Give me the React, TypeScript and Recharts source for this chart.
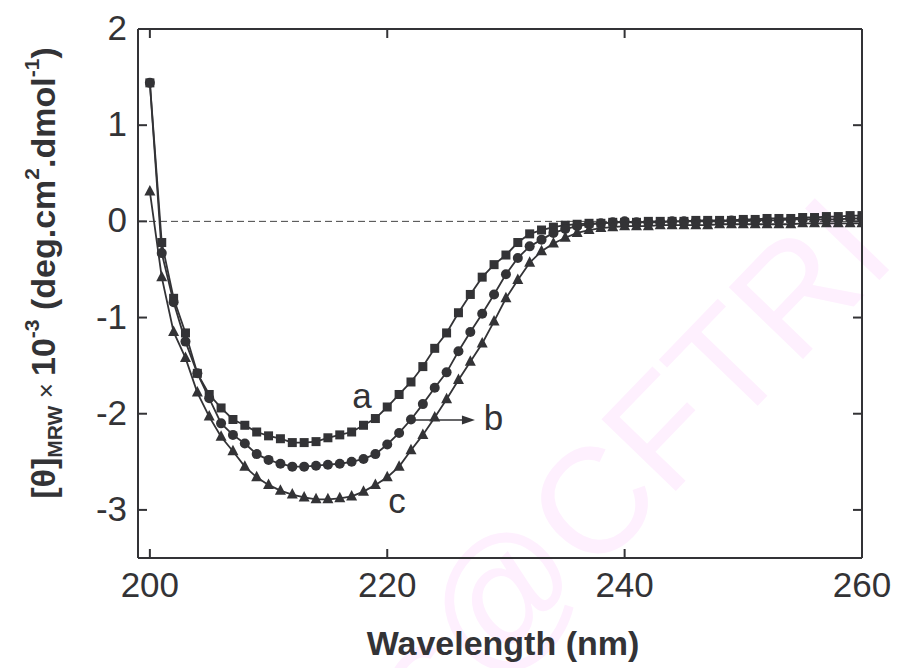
import React from 'react';
import { LineChart, Line, XAxis, YAxis, ReferenceLine, ReferenceDot } from 'recharts';

// wavelength (nm), one reading per nm
const wavelengths = [
  200, 201, 202, 203, 204, 205, 206, 207, 208, 209, 210, 211, 212, 213, 214, 215, 216, 217, 218, 219,
  220, 221, 222, 223, 224, 225, 226, 227, 228, 229, 230, 231, 232, 233, 234, 235, 236, 237, 238, 239,
  240, 241, 242, 243, 244, 245, 246, 247, 248, 249, 250, 251, 252, 253, 254, 255, 256, 257, 258, 259, 260,
];

// curve a (squares)
const seriesA = [
  1.44, -0.22, -0.8, -1.16, -1.58, -1.8, -1.94, -2.06, -2.12, -2.19, -2.23, -2.26, -2.3, -2.3, -2.29, -2.25, -2.22, -2.19, -2.12, -2.05,
  -1.93, -1.8, -1.67, -1.51, -1.32, -1.16, -0.95, -0.76, -0.58, -0.45, -0.35, -0.22, -0.13, -0.09, -0.06, -0.04, -0.03, -0.02, -0.02, -0.01,
  -0.01, -0.01, 0.0, 0.0, 0.0, 0.0, 0.01, 0.01, 0.01, 0.01, 0.02, 0.02, 0.03, 0.03, 0.03, 0.04, 0.04, 0.05, 0.05, 0.06, 0.06,
];

// curve b (circles)
const seriesB = [
  1.44, -0.33, -0.84, -1.25, -1.58, -1.84, -2.1, -2.22, -2.31, -2.42, -2.48, -2.52, -2.55, -2.55, -2.54, -2.53, -2.52, -2.5, -2.47, -2.42,
  -2.32, -2.2, -2.06, -1.9, -1.73, -1.57, -1.35, -1.15, -0.96, -0.76, -0.55, -0.38, -0.26, -0.19, -0.12, -0.08, -0.05, -0.03, -0.02, -0.01,
  0.0, -0.01, -0.01, -0.01, 0.0, 0.0, 0.0, 0.0, 0.0, 0.01, 0.01, 0.01, 0.01, 0.01, 0.02, 0.02, 0.02, 0.02, 0.02, 0.03, 0.03,
];

// curve c (triangles)
const seriesC = [
  0.31, -0.58, -1.15, -1.42, -1.78, -2.03, -2.24, -2.39, -2.55, -2.66, -2.74, -2.8, -2.84, -2.87, -2.89, -2.89, -2.88, -2.86, -2.81, -2.74,
  -2.66, -2.55, -2.38, -2.22, -2.04, -1.85, -1.65, -1.46, -1.27, -1.04, -0.8, -0.61, -0.43, -0.31, -0.23, -0.17, -0.12, -0.09, -0.07, -0.06,
  -0.05, -0.05, -0.05, -0.04, -0.04, -0.04, -0.04, -0.04, -0.03, -0.03, -0.03, -0.03, -0.03, -0.03, -0.03, -0.02, -0.02, -0.02, -0.02, -0.02, -0.02,
];

const xTicks = [200, 220, 240, 260];
const yTicks = [-3, -2, -1, 0, 1, 2];

const data = wavelengths.map((w, i) => ({ w, a: seriesA[i], b: seriesB[i], c: seriesC[i] }));

const INK = '#333336';
const FONT = '"Liberation Sans", Arial, Helvetica, sans-serif';

const SquareDot = (p: any) =>
  p.cx == null ? null : <rect key={`sq-${p.index}`} x={p.cx - 4.5} y={p.cy - 4.5} width={9} height={9} fill={INK} />;
const CircleDot = (p: any) =>
  p.cx == null ? null : <circle key={`ci-${p.index}`} cx={p.cx} cy={p.cy} r={5} fill={INK} />;
const TriangleDot = (p: any) =>
  p.cx == null ? null : (
    <polygon
      key={`tr-${p.index}`}
      points={`${p.cx},${p.cy - 6.5} ${p.cx - 5.5},${p.cy + 4} ${p.cx + 5.5},${p.cy + 4}`}
      fill={INK}
    />
  );

const LeftTick = ({ x, y, payload }: any) => (
  <g>
    <line x1={x} x2={x + 9} y1={y} y2={y} stroke={INK} strokeWidth={2} />
    <text x={x - 11} y={y + 11} textAnchor="end" fontSize={35} fill={INK} fontFamily={FONT}>
      {payload.value}
    </text>
  </g>
);
const RightTick = ({ x, y }: any) => <line x1={x} x2={x - 9} y1={y} y2={y} stroke={INK} strokeWidth={2} />;
const BottomTick = ({ x, y, payload }: any) => (
  <g>
    <line x1={x} x2={x} y1={y} y2={y - 9} stroke={INK} strokeWidth={2} />
    <text x={x} y={y + 39} textAnchor="middle" fontSize={35} fill={INK} fontFamily={FONT}>
      {payload.value}
    </text>
  </g>
);
const TopTick = ({ x, y }: any) => <line x1={x} x2={x} y1={y} y2={y + 9} stroke={INK} strokeWidth={2} />;

const curveLabel = (t: string) => (p: any) => (
  <text x={p.cx} y={p.cy} textAnchor="middle" fontSize={35} fill={INK} fontFamily={FONT}>
    {t}
  </text>
);
const ArrowHead = (p: any) => (
  <polygon points={`${p.cx},${p.cy} ${p.cx - 13},${p.cy - 4.5} ${p.cx - 13},${p.cy + 4.5}`} fill={INK} />
);

export default function App() {
  return (
    <div style={{ position: 'relative', width: 891, height: 660, overflow: 'hidden' }}>
      {/* watermark */}
      <svg width={891} height={660} style={{ position: 'absolute', left: 0, top: 0 }}>
        <text
          x={605}
          y={470}
          dy={54}
          textAnchor="middle"
          fontSize={150}
          fontFamily={FONT}
          fill="#fef0fe"
          transform="rotate(-46 605 470)"
        >
          ts@CFTRI
        </text>
      </svg>
      <div style={{ position: 'absolute', left: 0, top: 0 }}>
        <LineChart width={891} height={660} data={data} margin={{ top: 20, right: 36, bottom: 50, left: 70 }}>
          <XAxis
            xAxisId="bottom"
            dataKey="w"
            type="number"
            domain={[199, 260]}
            ticks={xTicks}
            interval={0}
            allowDataOverflow
            height={60}
            tickSize={0}
            tickMargin={0}
            tick={<BottomTick />}
            axisLine={{ stroke: INK, strokeWidth: 2 }}
            tickLine={false}
          />
          <XAxis
            xAxisId="top"
            orientation="top"
            dataKey="w"
            type="number"
            domain={[199, 260]}
            ticks={xTicks}
            interval={0}
            allowDataOverflow
            height={1}
            tickSize={0}
            tickMargin={0}
            tick={<TopTick />}
            axisLine={{ stroke: INK, strokeWidth: 2 }}
            tickLine={false}
          />
          <YAxis
            yAxisId="left"
            type="number"
            domain={[-3.5, 2]}
            ticks={yTicks}
            interval={0}
            allowDataOverflow
            width={60}
            tickSize={0}
            tickMargin={0}
            tick={<LeftTick />}
            axisLine={{ stroke: INK, strokeWidth: 2 }}
            tickLine={false}
          />
          <YAxis
            yAxisId="right"
            orientation="right"
            type="number"
            domain={[-3.5, 2]}
            ticks={yTicks}
            interval={0}
            allowDataOverflow
            width={1}
            tickSize={0}
            tickMargin={0}
            tick={<RightTick />}
            axisLine={{ stroke: INK, strokeWidth: 2 }}
            tickLine={false}
          />
          <ReferenceLine xAxisId="bottom" yAxisId="left" y={0} stroke="#444" strokeWidth={1} strokeDasharray="7 4" />
          <Line
            xAxisId="bottom"
            yAxisId="left"
            type="linear"
            dataKey="a"
            stroke={INK}
            strokeWidth={1.8}
            dot={SquareDot}
            activeDot={false}
            isAnimationActive={false}
          />
          <Line
            xAxisId="bottom"
            yAxisId="left"
            type="linear"
            dataKey="b"
            stroke={INK}
            strokeWidth={1.8}
            dot={CircleDot}
            activeDot={false}
            isAnimationActive={false}
          />
          <Line
            xAxisId="bottom"
            yAxisId="left"
            type="linear"
            dataKey="c"
            stroke={INK}
            strokeWidth={1.8}
            dot={TriangleDot}
            activeDot={false}
            isAnimationActive={false}
          />
          <ReferenceLine
            xAxisId="bottom"
            yAxisId="left"
            segment={[{ x: 222.34, y: -2.065 }, { x: 226.5, y: -2.065 }]}
            stroke={INK}
            strokeWidth={1.3}
            ifOverflow="visible"
          />
          <ReferenceDot xAxisId="bottom" yAxisId="left" x={227.39} y={-2.065} r={0} shape={ArrowHead} ifOverflow="visible" />
          <ReferenceDot xAxisId="bottom" yAxisId="left" x={217.87} y={-1.94} r={0} shape={curveLabel('a')} ifOverflow="visible" />
          <ReferenceDot xAxisId="bottom" yAxisId="left" x={228.95} y={-2.17} r={0} shape={curveLabel('b')} ifOverflow="visible" />
          <ReferenceDot xAxisId="bottom" yAxisId="left" x={220.82} y={-3.03} r={0} shape={curveLabel('c')} ifOverflow="visible" />
        </LineChart>
      </div>
      {/* axis titles */}
      <svg width={891} height={660} style={{ position: 'absolute', left: 0, top: 0, pointerEvents: 'none' }}>
        <text x={495} y={647} textAnchor="middle" fontSize={34} fontWeight="bold" fill={INK} fontFamily={FONT}>
          Wavelength (nm)
        </text>
        <text
          x={47}
          y={265}
          textAnchor="middle"
          fontSize={34}
          fontWeight="bold"
          fill={INK}
          fontFamily={FONT}
          transform="rotate(-90 47 265)"
        >
          <tspan>[θ]</tspan>
          <tspan fontSize={21} dy={7}>MRW</tspan>
          <tspan fontSize={26} fontWeight="normal" dy={-7}>{' × '}</tspan>
          <tspan>10</tspan>
          <tspan fontSize={21} dy={-16}>-3</tspan>
          <tspan dy={16}>{' (deg.cm'}</tspan>
          <tspan fontSize={21} dy={-16}>2</tspan>
          <tspan dy={16}>.dmol</tspan>
          <tspan fontSize={21} dy={-16}>-1</tspan>
          <tspan dy={16}>)</tspan>
        </text>
      </svg>
    </div>
  );
}
